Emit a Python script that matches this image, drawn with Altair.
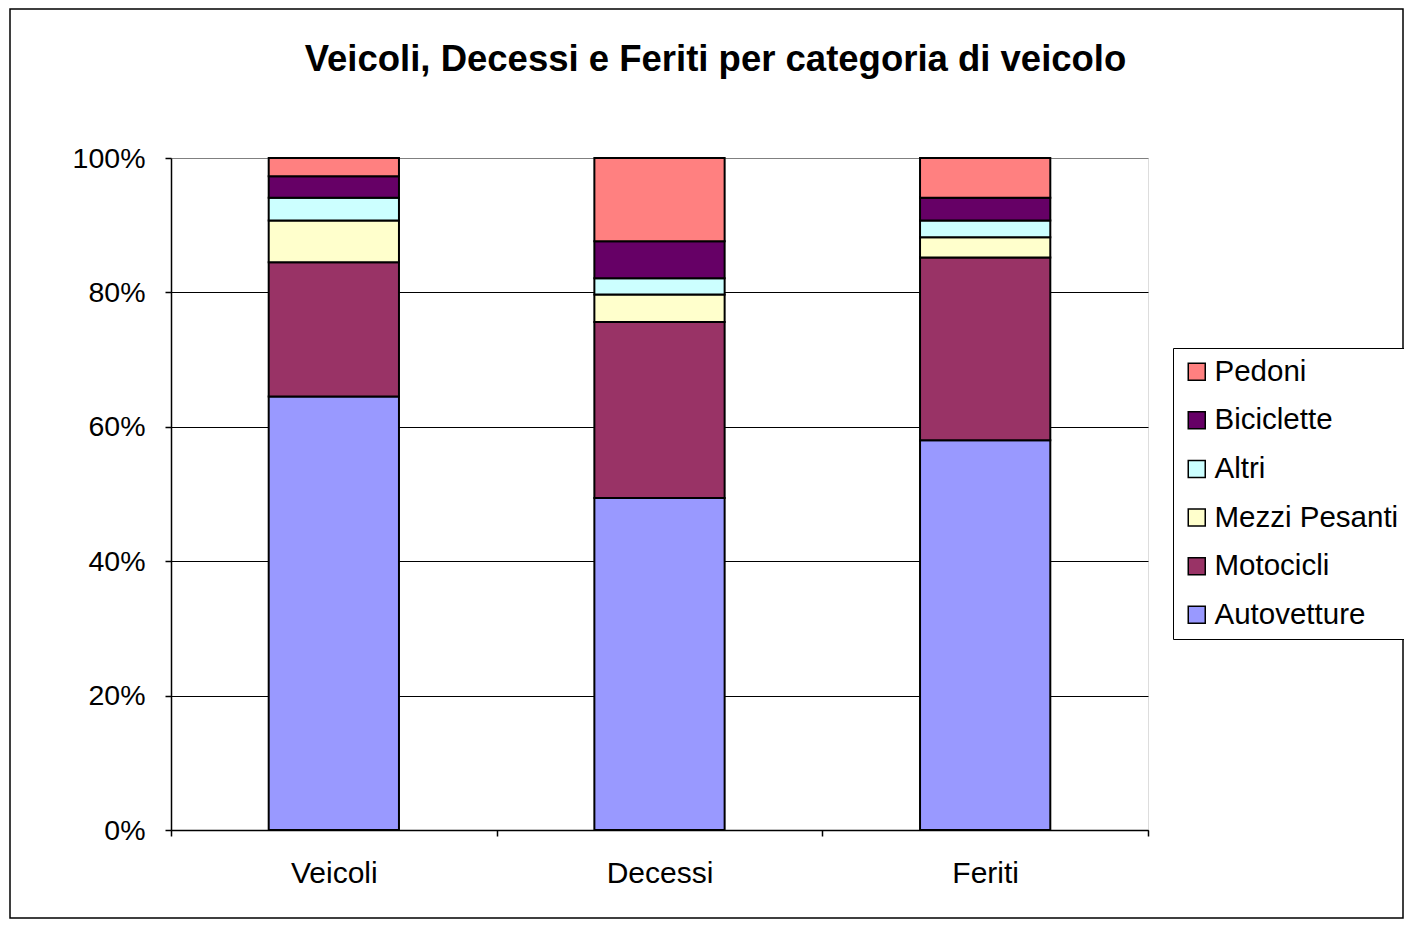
import altair as alt
import pandas as pd

categories = ["Veicoli", "Decessi", "Feriti"]
series = ["Autovetture", "Motocicli", "Mezzi Pesanti", "Altri", "Biciclette", "Pedoni"]
values = {
    "Autovetture":   [64.5, 49.4, 58.0],
    "Motocicli":     [20.0, 26.2, 27.2],
    "Mezzi Pesanti": [6.2, 4.1, 3.0],
    "Altri":         [3.4, 2.4, 2.5],
    "Biciclette":    [3.2, 5.5, 3.4],
    "Pedoni":        [2.7, 12.4, 5.9],
}
colors = ["#9999FF", "#993366", "#FFFFCC", "#CCFFFF", "#660066", "#FF8080"]
legend_order = list(reversed(series))
legend_colors = list(reversed(colors))

rows = []
for si, s in enumerate(series):
    for ci, c in enumerate(categories):
        rows.append({"cat": c, "serie": s, "val": values[s][ci], "ord": si})
df = pd.DataFrame(rows)

FONT = "Liberation Sans"
W, H = 977, 672

bars = alt.Chart(df).mark_bar(stroke="black", strokeWidth=2, width=alt.RelativeBandSize(0.4)).encode(
    x=alt.X("cat:N", sort=categories, title=None,
            scale=alt.Scale(paddingInner=0, paddingOuter=0),
            axis=alt.Axis(labelAngle=0, labelFontSize=30, labelFont=FONT, labelColor="black",
                          tickBand="extent", tickColor="black", tickSize=6, tickWidth=1.5,
                          domainColor="black", domainWidth=1.5, labelPadding=22)),
    y=alt.Y("val:Q", stack="normalize", title=None,
            scale=alt.Scale(domain=[0, 1]),
            axis=alt.Axis(format=".0%", values=[0, 0.2, 0.4, 0.6, 0.8, 1.0],
                          labelFontSize=28.5, labelFont=FONT, labelColor="black",
                          tickColor="black", tickSize=6, tickWidth=1.5, labelPadding=20,
                          domainColor="black", domainWidth=1.5,
                          grid=True,
                          gridColor={"condition": {"test": "datum.value >= 1", "value": "#808080"}, "value": "black"},
                          gridWidth=1.2)),
    color=alt.Color("serie:N", title=None,
                    scale=alt.Scale(domain=legend_order, range=legend_colors),
                    legend=alt.Legend(orient="none", legendX=1002, legendY=190,
                                      symbolType="square", symbolSize=289,
                                      symbolStrokeColor="black", symbolStrokeWidth=1.5,
                                      symbolOpacity=1,
                                      labelFontSize=29.5, labelFont=FONT, labelColor="black",
                                      labelOffset=3, labelLimit=400, rowPadding=17.6, padding=9,
                                      fillColor="white", strokeColor="black")),
    order=alt.Order("ord:Q", sort="ascending"),
)

frame = alt.Chart(pd.DataFrame({"k": [0]})).mark_rect(fill=None, stroke="black", strokeWidth=1.5).encode(
    x=alt.value(-161), x2=alt.value(1232), y=alt.value(-149), y2=alt.value(760)
)

chart = alt.layer(frame, bars).properties(
    width=W, height=H,
    title=alt.Title("Veicoli, Decessi e Feriti per categoria di veicolo",
                    font=FONT, fontSize=36.5, fontWeight="bold", color="black",
                    anchor="middle", frame="group", dx=56, offset=-99,
                    baseline="alphabetic"),
    autosize=alt.AutoSizeParams(type="none"),
    padding={"left": 163, "top": 150, "right": 256, "bottom": 89},
).configure_view(stroke="#808080", strokeWidth=1.5).configure(background="white")

chart.save("out.html", embed_options={"renderer": "svg", "actions": False})
